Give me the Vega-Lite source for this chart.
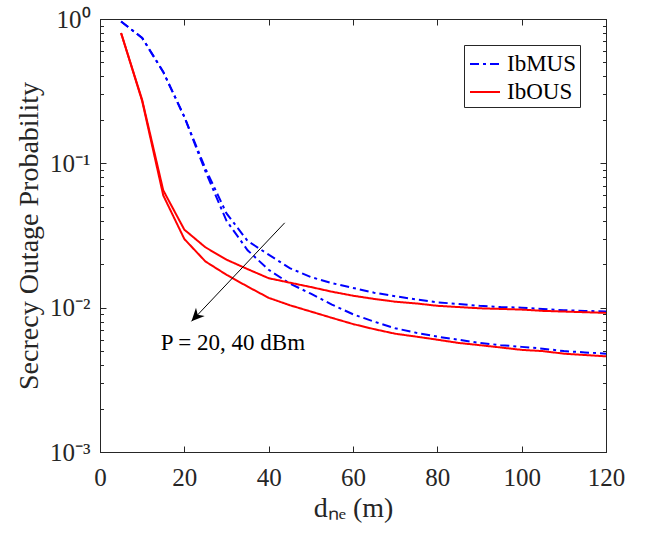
{
  "$schema": "https://vega.github.io/schema/vega-lite/v6.json",
  "width": 506,
  "height": 433,
  "autosize": {"type": "none"},
  "padding": {"left": 100, "top": 19, "right": 41, "bottom": 86},
  "config": {
    "font": "Liberation Serif",
    "view": {"stroke": "#262626", "strokeWidth": 1},
    "axis": {
      "grid": false,
      "domainColor": "#262626",
      "tickColor": "#262626",
      "labelColor": "#262626",
      "titleColor": "#262626",
      "labelFont": "Liberation Serif",
      "titleFont": "Liberation Serif",
      "labelFontSize": 25,
      "titleFontSize": 28,
      "titleFontWeight": "normal",
      "tickSize": -6,
      "labelPadding": 16,
      "labelFlush": false,
      "labelOverlap": false
    },
    "legend": {
      "orient": "top-right",
      "offset": 26,
      "strokeColor": "#262626",
      "fillColor": "white",
      "padding": 3,
      "symbolType": "stroke",
      "symbolSize": 900,
      "symbolOffset": 2,
      "symbolStrokeWidth": 2,
      "labelFont": "Liberation Serif",
      "labelFontSize": 23,
      "labelColor": "black",
      "labelOffset": 6,
      "rowPadding": 0
    }
  },
  "datasets": {
    "curves": [
      {"d":5,"p":0.96,"method":"IbMUS","P":20},{"d":10,"p":0.74,"method":"IbMUS","P":20},{"d":15,"p":0.43,"method":"IbMUS","P":20},{"d":20,"p":0.21,"method":"IbMUS","P":20},{"d":25,"p":0.092,"method":"IbMUS","P":20},{"d":30,"p":0.045,"method":"IbMUS","P":20},{"d":35,"p":0.029,"method":"IbMUS","P":20},{"d":40,"p":0.0233,"method":"IbMUS","P":20},{"d":45,"p":0.0188,"method":"IbMUS","P":20},{"d":50,"p":0.0163,"method":"IbMUS","P":20},{"d":55,"p":0.0148,"method":"IbMUS","P":20},{"d":60,"p":0.0137,"method":"IbMUS","P":20},{"d":65,"p":0.0127,"method":"IbMUS","P":20},{"d":70,"p":0.012,"method":"IbMUS","P":20},{"d":75,"p":0.0114,"method":"IbMUS","P":20},{"d":80,"p":0.0109,"method":"IbMUS","P":20},{"d":85,"p":0.0106,"method":"IbMUS","P":20},{"d":90,"p":0.0103,"method":"IbMUS","P":20},{"d":95,"p":0.0101,"method":"IbMUS","P":20},{"d":100,"p":0.01,"method":"IbMUS","P":20},{"d":105,"p":0.0098,"method":"IbMUS","P":20},{"d":110,"p":0.0096,"method":"IbMUS","P":20},{"d":115,"p":0.0095,"method":"IbMUS","P":20},{"d":120,"p":0.0094,"method":"IbMUS","P":20},
      {"d":5,"p":0.96,"method":"IbMUS","P":40},{"d":10,"p":0.74,"method":"IbMUS","P":40},{"d":15,"p":0.43,"method":"IbMUS","P":40},{"d":20,"p":0.21,"method":"IbMUS","P":40},{"d":25,"p":0.088,"method":"IbMUS","P":40},{"d":30,"p":0.04,"method":"IbMUS","P":40},{"d":35,"p":0.025,"method":"IbMUS","P":40},{"d":40,"p":0.0183,"method":"IbMUS","P":40},{"d":45,"p":0.0147,"method":"IbMUS","P":40},{"d":50,"p":0.0125,"method":"IbMUS","P":40},{"d":55,"p":0.0105,"method":"IbMUS","P":40},{"d":60,"p":0.009,"method":"IbMUS","P":40},{"d":65,"p":0.008,"method":"IbMUS","P":40},{"d":70,"p":0.0072,"method":"IbMUS","P":40},{"d":75,"p":0.0067,"method":"IbMUS","P":40},{"d":80,"p":0.0063,"method":"IbMUS","P":40},{"d":85,"p":0.006,"method":"IbMUS","P":40},{"d":90,"p":0.0057,"method":"IbMUS","P":40},{"d":95,"p":0.0055,"method":"IbMUS","P":40},{"d":100,"p":0.00535,"method":"IbMUS","P":40},{"d":105,"p":0.0052,"method":"IbMUS","P":40},{"d":110,"p":0.005,"method":"IbMUS","P":40},{"d":115,"p":0.0049,"method":"IbMUS","P":40},{"d":120,"p":0.0048,"method":"IbMUS","P":40},
      {"d":5,"p":0.8,"method":"IbOUS","P":20},{"d":10,"p":0.275,"method":"IbOUS","P":20},{"d":15,"p":0.065,"method":"IbOUS","P":20},{"d":20,"p":0.0347,"method":"IbOUS","P":20},{"d":25,"p":0.0262,"method":"IbOUS","P":20},{"d":30,"p":0.0215,"method":"IbOUS","P":20},{"d":35,"p":0.0185,"method":"IbOUS","P":20},{"d":40,"p":0.016,"method":"IbOUS","P":20},{"d":45,"p":0.0149,"method":"IbOUS","P":20},{"d":50,"p":0.0139,"method":"IbOUS","P":20},{"d":55,"p":0.0129,"method":"IbOUS","P":20},{"d":60,"p":0.0121,"method":"IbOUS","P":20},{"d":65,"p":0.0115,"method":"IbOUS","P":20},{"d":70,"p":0.011,"method":"IbOUS","P":20},{"d":75,"p":0.0107,"method":"IbOUS","P":20},{"d":80,"p":0.0103,"method":"IbOUS","P":20},{"d":85,"p":0.0101,"method":"IbOUS","P":20},{"d":90,"p":0.0099,"method":"IbOUS","P":20},{"d":95,"p":0.0098,"method":"IbOUS","P":20},{"d":100,"p":0.0097,"method":"IbOUS","P":20},{"d":105,"p":0.0095,"method":"IbOUS","P":20},{"d":110,"p":0.0094,"method":"IbOUS","P":20},{"d":115,"p":0.0093,"method":"IbOUS","P":20},{"d":120,"p":0.0092,"method":"IbOUS","P":20},
      {"d":5,"p":0.8,"method":"IbOUS","P":40},{"d":10,"p":0.27,"method":"IbOUS","P":40},{"d":15,"p":0.06,"method":"IbOUS","P":40},{"d":20,"p":0.0299,"method":"IbOUS","P":40},{"d":25,"p":0.0209,"method":"IbOUS","P":40},{"d":30,"p":0.0169,"method":"IbOUS","P":40},{"d":35,"p":0.014,"method":"IbOUS","P":40},{"d":40,"p":0.0117,"method":"IbOUS","P":40},{"d":45,"p":0.0104,"method":"IbOUS","P":40},{"d":50,"p":0.0094,"method":"IbOUS","P":40},{"d":55,"p":0.0085,"method":"IbOUS","P":40},{"d":60,"p":0.0077,"method":"IbOUS","P":40},{"d":65,"p":0.0071,"method":"IbOUS","P":40},{"d":70,"p":0.0066,"method":"IbOUS","P":40},{"d":75,"p":0.0063,"method":"IbOUS","P":40},{"d":80,"p":0.006,"method":"IbOUS","P":40},{"d":85,"p":0.0057,"method":"IbOUS","P":40},{"d":90,"p":0.0055,"method":"IbOUS","P":40},{"d":95,"p":0.0053,"method":"IbOUS","P":40},{"d":100,"p":0.0051,"method":"IbOUS","P":40},{"d":105,"p":0.005,"method":"IbOUS","P":40},{"d":110,"p":0.0048,"method":"IbOUS","P":40},{"d":115,"p":0.0047,"method":"IbOUS","P":40},{"d":120,"p":0.0046,"method":"IbOUS","P":40}
    ],
    "arrow": [{"x1": 43.8, "y1": 0.0387, "x2": 21.7, "y2": 0.00804}],
    "note": [{"x": 31.5, "y": 0.00506, "text": "P = 20, 40 dBm"}]
  },
  "layer": [
    {
      "data": {"name": "curves"},
      "mark": {"type": "line", "strokeWidth": 2, "clip": true},
      "encoding": {
        "x": {"field": "d", "type": "quantitative", "scale": {"domain": [0, 120], "nice": false, "zero": false},
              "axis": {"orient": "bottom", "values": [0, 20, 40, 60, 80, 100, 120], "title": "dₙₑ (m)", "titlePadding": 4, "labelPadding": 19}},
        "y": {"field": "p", "type": "quantitative", "scale": {"type": "log", "domain": [0.001, 1], "nice": false},
              "axis": {"orient": "left", "values": [0.001, 0.01, 0.1, 1], "title": "Secrecy Outage Probability", "titlePadding": 6,
                       "labelExpr": "datum.value > 0.5 ? '10⁰' : datum.value > 0.05 ? '10⁻¹' : datum.value > 0.005 ? '10⁻²' : '10⁻³'"}},
        "color": {"field": "method", "type": "nominal", "title": null,
                  "scale": {"domain": ["IbMUS", "IbOUS"], "range": ["#0000FF", "#FF0000"]}},
        "strokeDash": {"field": "method", "type": "nominal", "title": null,
                  "scale": {"domain": ["IbMUS", "IbOUS"], "range": [[9, 4, 3, 4], [1, 0]]}},
        "detail": {"field": "P", "type": "nominal"}
      }
    },
    {
      "data": {"name": "arrow"},
      "mark": {"type": "rule", "color": "black", "strokeWidth": 1},
      "encoding": {
        "x": {"field": "x1", "type": "quantitative", "scale": {"domain": [0, 120], "nice": false, "zero": false},
              "axis": {"orient": "top", "values": [0, 20, 40, 60, 80, 100, 120], "labels": false, "title": null}},
        "y": {"field": "y1", "type": "quantitative", "scale": {"type": "log", "domain": [0.001, 1], "nice": false},
              "axis": {"orient": "right", "values": [0.001, 0.01, 0.1, 1], "labels": false, "title": null}},
        "x2": {"field": "x2"},
        "y2": {"field": "y2"}
      }
    },
    {
      "data": {"name": "arrow"},
      "mark": {"type": "point", "shape": "M0,0L0.46,1L0,0.7L-0.46,1Z", "filled": true, "color": "black", "opacity": 1, "size": 676, "angle": 223},
      "encoding": {
        "x": {"field": "x2", "type": "quantitative", "scale": {"domain": [0, 120], "nice": false, "zero": false}, "axis": null},
        "y": {"field": "y2", "type": "quantitative", "scale": {"type": "log", "domain": [0.001, 1], "nice": false},
              "axis": {"orient": "left", "values": [0.002,0.003,0.004,0.005,0.006,0.007,0.008,0.009,0.02,0.03,0.04,0.05,0.06,0.07,0.08,0.09,0.2,0.3,0.4,0.5,0.6,0.7,0.8,0.9], "labels": false, "title": null, "domain": false, "tickSize": -3.5}}
      }
    },
    {
      "data": {"name": "note"},
      "mark": {"type": "text", "font": "Liberation Serif", "fontSize": 23, "align": "center", "baseline": "alphabetic", "color": "black"},
      "encoding": {
        "x": {"field": "x", "type": "quantitative", "scale": {"domain": [0, 120], "nice": false, "zero": false}, "axis": null},
        "y": {"field": "y", "type": "quantitative", "scale": {"type": "log", "domain": [0.001, 1], "nice": false},
              "axis": {"orient": "right", "values": [0.002,0.003,0.004,0.005,0.006,0.007,0.008,0.009,0.02,0.03,0.04,0.05,0.06,0.07,0.08,0.09,0.2,0.3,0.4,0.5,0.6,0.7,0.8,0.9], "labels": false, "title": null, "domain": false, "tickSize": -3.5}},
        "text": {"field": "text", "type": "nominal"}
      }
    }
  ],
  "resolve": {"axis": {"x": "independent", "y": "independent"}}
}
